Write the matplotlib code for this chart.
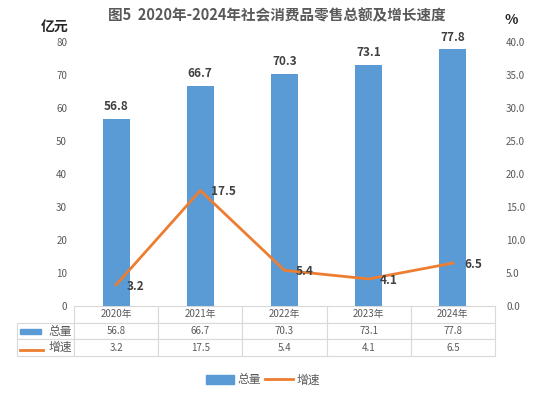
import matplotlib.pyplot as plt
from matplotlib.patches import Rectangle
from matplotlib.lines import Line2D

plt.rcParams['font.family'] = ['Noto Sans CJK SC', 'DejaVu Sans']

# 数据
years = ['2020年', '2021年', '2022年', '2023年', '2024年']
total = [56.8, 66.7, 70.3, 73.1, 77.8]
growth = [3.2, 17.5, 5.4, 4.1, 6.5]

bar_color = '#5B9BD5'
line_color = '#ED7D31'
grey = '#595959'
label_color = '#404040'

fig = plt.figure(figsize=(5.54, 3.95), dpi=100)
ax = fig.add_axes([74 / 554, 1 - 306 / 395, 421 / 554, 264 / 395])
ax2 = ax.twinx()

x = range(len(years))
bars = ax.bar(x, total, width=0.32, color=bar_color, zorder=2)
ax.set_xlim(-0.5, 4.5)
ax.set_ylim(0, 80)
ax.set_yticks(range(0, 81, 10))
ax.set_xticks([])

for xi, v in zip(x, total):
    ax.annotate(f'{v}', (xi, v), xytext=(0, 4), textcoords='offset points',
                ha='center', va='bottom', fontsize=8.5, fontweight='bold', color=label_color)

ax2.plot(list(x), growth, color=line_color, linewidth=2, zorder=3)
ax2.set_ylim(0, 40)
ax2.set_yticks(range(0, 41, 5))
ax2.set_yticklabels([f'{v:.1f}' for v in range(0, 41, 5)])
for xi, v in zip(x, growth):
    ax2.annotate(f'{v}', (xi, v), xytext=(8, -1), textcoords='offset points',
                 ha='left', va='center', fontsize=8.5, fontweight='bold', color=label_color)

for a in (ax, ax2):
    for s in a.spines.values():
        s.set_visible(False)
    a.tick_params(axis='y', length=0, labelsize=7, labelcolor=grey)
ax.tick_params(axis='y', pad=5)
ax2.tick_params(axis='y', pad=8)

# 数据表
cell_text = [[''] + years,
             ['总量'] + [f'{v}' for v in total],
             ['增速'] + [f'{v}' for v in growth]]
lab_w = 57 / 421
tbl = ax.table(cellText=cell_text, cellLoc='center',
               colWidths=[lab_w] + [1 / 5] * 5,
               bbox=[-lab_w, -50 / 264, 1 + lab_w, 50 / 264])
tbl.auto_set_font_size(False)
tbl.set_fontsize(7)
for (r, c), cell in tbl.get_celld().items():
    cell.set_edgecolor('#D9D9D9')
    cell.set_linewidth(0.8)
    cell.get_text().set_color(grey)
    if c == 0:
        cell.get_text().set_ha('right')
        cell.get_text().set_fontsize(8.5)
        cell.PAD = 0.04
        if r == 0:
            cell.visible_edges = ''

# 表内图例标记
ax.add_patch(Rectangle((-lab_w + 0.006, -27.5 / 264), 0.052, 5 / 264,
                       transform=ax.transAxes, color=bar_color, clip_on=False))
ax.add_line(Line2D([-lab_w + 0.006, -lab_w + 0.062], [-44 / 264, -44 / 264],
                   transform=ax.transAxes, color=line_color, linewidth=2, clip_on=False))

fig.text(0.5, 0.962, '图5  2020年-2024年社会消费品零售总额及增长速度', ha='center', va='center',
         fontsize=10.5, fontweight='bold', color=grey)
fig.text(55 / 554, 1 - 27 / 395, '亿元', ha='center', va='center', fontsize=10, fontweight='bold', color='#262626')
fig.text(511 / 554, 1 - 20 / 395, '%', ha='center', va='center', fontsize=10, fontweight='bold', color='#262626')

handles = [Rectangle((0, 0), 1, 1, color=bar_color),
           Line2D([0], [0], color=line_color, linewidth=2)]
fig.legend(handles, ['总量', '增速'], loc='center', bbox_to_anchor=(263 / 554, 1 - 380 / 395),
           ncol=2, frameon=False, fontsize=8.5, handlelength=2.4, handletextpad=0.3,
           columnspacing=0.3, labelcolor=grey)

fig.savefig('out.png', dpi=100)
